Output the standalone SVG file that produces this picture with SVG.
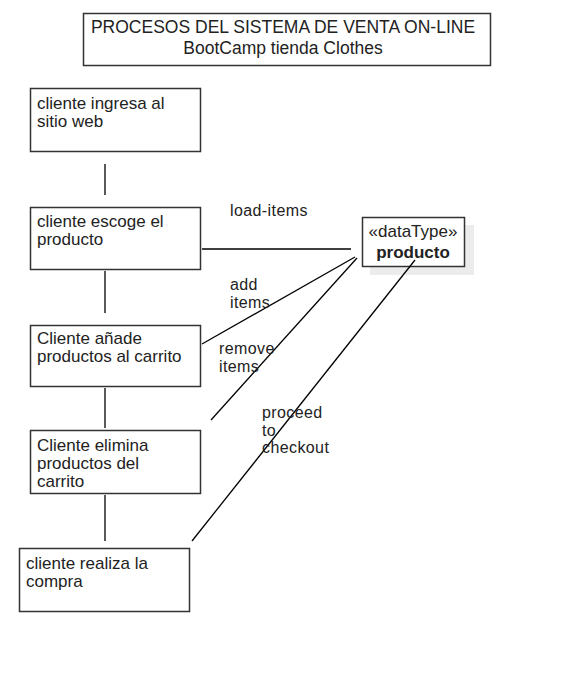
<svg xmlns="http://www.w3.org/2000/svg" width="570" height="690" viewBox="0 0 570 690">
<style>
.box{fill:#fff;stroke:#333;stroke-width:1.5}
.t{font-family:"Liberation Sans",Arial,sans-serif;font-size:17px;fill:#222}
.lb{font-family:"Liberation Sans",Arial,sans-serif;font-size:16px;letter-spacing:0.4px;fill:#222}
.ln{stroke:#000;stroke-width:1.3;fill:none}
</style>
<rect width="570" height="690" fill="#fff"/>
<g id="title">
<rect class="box" x="83.5" y="13.5" width="407" height="52"/>
<text class="t" x="283" y="33" text-anchor="middle" style="font-size:17.5px">PROCESOS DEL SISTEMA DE VENTA ON-LINE</text>
<text class="t" x="283" y="54" text-anchor="middle" style="font-size:17.5px">BootCamp tienda Clothes</text>
</g>
<g id="n1">
<rect class="box" x="30.5" y="88.5" width="170" height="63"/>
<text class="t" x="37" y="109">cliente ingresa al</text>
<text class="t" x="37" y="127">sitio web</text>
</g>
<g id="n2">
<rect class="box" x="30.5" y="207.5" width="170" height="62"/>
<text class="t" x="37" y="227">cliente escoge el</text>
<text class="t" x="37" y="245">producto</text>
</g>
<g id="n3">
<rect class="box" x="30.5" y="325.5" width="170" height="61"/>
<text class="t" x="37" y="344">Cliente añade</text>
<text class="t" x="37" y="362">productos al carrito</text>
</g>
<g id="n4">
<rect class="box" x="30.5" y="430.5" width="170" height="63"/>
<text class="t" x="37" y="451">Cliente elimina</text>
<text class="t" x="37" y="469">productos del</text>
<text class="t" x="37" y="487">carrito</text>
</g>
<g id="n5">
<rect class="box" x="19.5" y="548.5" width="170" height="63"/>
<text class="t" x="26" y="569">cliente realiza la</text>
<text class="t" x="26" y="587">compra</text>
</g>
<g id="producto">
<rect x="370" y="225" width="104" height="50" fill="#ececec"/>
<rect class="box" x="362.5" y="217.5" width="102" height="49"/>
<text class="t" x="413" y="237" text-anchor="middle">«dataType»</text>
<text class="t" x="413" y="258" text-anchor="middle" font-weight="bold">producto</text>
</g>
<g id="connectors">
<line class="ln" x1="105" y1="164" x2="105" y2="195"/>
<line class="ln" x1="105" y1="271" x2="105" y2="313"/>
<line class="ln" x1="105" y1="388" x2="105" y2="428"/>
<line class="ln" x1="105" y1="495" x2="105" y2="541"/>
<line class="ln" x1="202" y1="249" x2="351" y2="249"/>
<line class="ln" x1="202" y1="344" x2="355" y2="257"/>
<line class="ln" x1="211" y1="420" x2="357" y2="258"/>
<line class="ln" x1="192" y1="541" x2="415" y2="260"/>
<text class="lb" x="230" y="216">load-items</text>
<text class="lb" x="230" y="290">add</text>
<text class="lb" x="230" y="307.5">items</text>
<text class="lb" x="219" y="354">remove</text>
<text class="lb" x="219" y="371.5">items</text>
<text class="lb" x="262" y="418">proceed</text>
<text class="lb" x="262" y="435.5">to</text>
<text class="lb" x="262" y="453">checkout</text>
</g>
</svg>
